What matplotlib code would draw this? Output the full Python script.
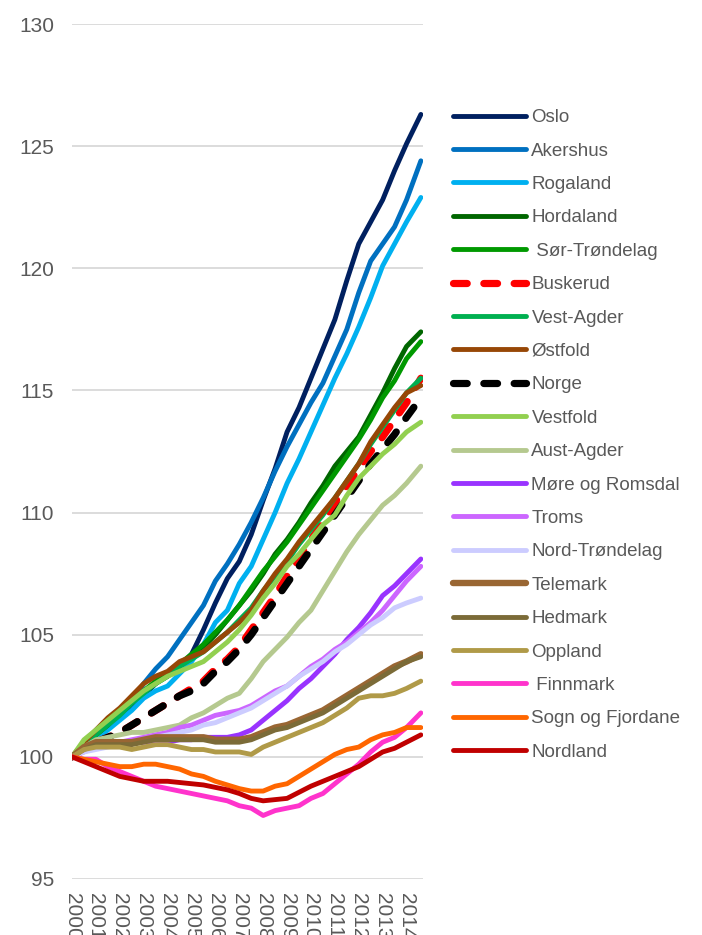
import numpy as np
import matplotlib.pyplot as plt

plt.rcParams['font.family'] = ['Liberation Sans', 'DejaVu Sans']

# half-yearly points, years since 2000 (last point mid-2014)
t = np.append(np.arange(0, 14.5, 0.5), 14.6)
year_labels = [str(y) for y in range(2000, 2015)]

names = ["Oslo", "Akershus", "Rogaland", "Hordaland", " Sør-Trøndelag", "Buskerud",
         "Vest-Agder", "Østfold", "Norge", "Vestfold", "Aust-Agder", "Møre og Romsdal",
         "Troms", "Nord-Trøndelag", "Telemark", "Hedmark", "Oppland", " Finnmark",
         "Sogn og Fjordane", "Nordland"]

oslo = [100, 100.5, 100.9, 101.3, 101.7, 102.1, 102.5, 103.0, 103.4, 103.7,
        104.2, 105.2, 106.3, 107.3, 108.0, 109.1, 110.5, 111.8, 113.3, 114.3,
        115.5, 116.7, 117.9, 119.5, 121.0, 121.9, 122.8, 124.0, 125.1, 126.3]
akershus = [100, 100.3, 100.8, 101.3, 101.7, 102.3, 103.0, 103.6, 104.1, 104.8,
            105.5, 106.2, 107.2, 107.9, 108.7, 109.6, 110.6, 111.7, 112.7, 113.6,
            114.5, 115.3, 116.4, 117.5, 119.0, 120.3, 121.0, 121.7, 122.8, 124.4]
rogaland = [100, 100.3, 100.7, 101.1, 101.5, 101.9, 102.4, 102.7, 102.9, 103.4,
            103.9, 104.6, 105.5, 106.0, 107.1, 107.8, 108.9, 110.0, 111.2, 112.2,
            113.3, 114.4, 115.5, 116.5, 117.6, 118.8, 120.1, 121.0, 121.9, 122.9]
hordaland = [100, 100.5, 100.9, 101.3, 101.8, 102.2, 102.7, 103.0, 103.3, 103.7,
             104.1, 104.5, 105.0, 105.6, 106.2, 106.8, 107.5, 108.3, 108.9, 109.6,
             110.4, 111.1, 111.9, 112.5, 113.1, 114.0, 114.9, 115.9, 116.8, 117.4]
sor_trondelag = [100, 100.6, 101.0, 101.4, 101.8, 102.3, 102.7, 103.1, 103.4, 103.8,
                 104.2, 104.6, 105.1, 105.6, 106.2, 106.9, 107.6, 108.2, 108.8, 109.5,
                 110.2, 110.9, 111.6, 112.3, 113.0, 113.8, 114.7, 115.4, 116.3, 117.0]
buskerud = [100, 100.3, 100.6, 100.8, 101.0, 101.3, 101.6, 101.9, 102.2, 102.5,
            102.8, 103.1, 103.6, 104.0, 104.5, 105.2, 105.9, 106.6, 107.4, 108.1,
            108.9, 109.6, 110.4, 111.1, 111.8, 112.5, 113.1, 113.8, 114.5, 115.5]
vest_agder = [100, 100.5, 100.9, 101.3, 101.7, 102.2, 102.6, 103.0, 103.3, 103.7,
              104.0, 104.3, 104.7, 105.1, 105.6, 106.1, 106.8, 107.4, 108.0, 108.7,
              109.3, 109.9, 110.6, 111.3, 112.0, 112.8, 113.5, 114.2, 114.9, 115.5]
ostfold = [100, 100.6, 101.1, 101.6, 102.0, 102.5, 103.0, 103.3, 103.5, 103.9,
           104.1, 104.3, 104.7, 105.1, 105.5, 106.0, 106.8, 107.5, 108.1, 108.8,
           109.4, 110.0, 110.6, 111.3, 112.0, 112.9, 113.6, 114.3, 114.9, 115.2]
norge = [100, 100.3, 100.6, 100.8, 101.0, 101.3, 101.6, 101.9, 102.2, 102.5,
         102.7, 103.0, 103.5, 103.9, 104.4, 105.0, 105.7, 106.4, 107.1, 107.8,
         108.5, 109.2, 109.9, 110.6, 111.3, 112.0, 112.6, 113.2, 113.9, 114.7]
vestfold = [100, 100.7, 101.1, 101.5, 101.9, 102.3, 102.7, 103.0, 103.3, 103.5,
            103.7, 103.9, 104.3, 104.7, 105.2, 105.8, 106.5, 107.1, 107.8, 108.3,
            108.9, 109.5, 109.9, 110.7, 111.4, 111.9, 112.4, 112.8, 113.3, 113.7]
aust_agder = [100, 100.4, 100.7, 100.8, 100.9, 101.0, 101.0, 101.1, 101.2, 101.3,
              101.6, 101.8, 102.1, 102.4, 102.6, 103.2, 103.9, 104.4, 104.9, 105.5,
              106.0, 106.8, 107.6, 108.4, 109.1, 109.7, 110.3, 110.7, 111.2, 111.9]
more_romsdal = [100, 100.3, 100.4, 100.5, 100.5, 100.6, 100.6, 100.6, 100.6, 100.7,
                100.7, 100.8, 100.8, 100.8, 100.9, 101.1, 101.5, 101.9, 102.3, 102.8,
                103.2, 103.7, 104.2, 104.8, 105.3, 105.9, 106.6, 107.0, 107.5, 108.1]
troms = [100, 100.2, 100.4, 100.5, 100.6, 100.7, 100.8, 100.9, 101.0, 101.2,
         101.3, 101.5, 101.7, 101.8, 101.9, 102.1, 102.4, 102.7, 102.9, 103.3,
         103.7, 104.0, 104.4, 104.7, 105.1, 105.5, 106.0, 106.6, 107.2, 107.8]
nord_trondelag = [100, 100.2, 100.3, 100.4, 100.5, 100.6, 100.7, 100.8, 100.9, 101.0,
                  101.1, 101.3, 101.4, 101.6, 101.8, 102.0, 102.3, 102.6, 102.9, 103.3,
                  103.6, 103.9, 104.3, 104.6, 105.0, 105.4, 105.7, 106.1, 106.3, 106.5]
telemark = [100, 100.4, 100.6, 100.6, 100.6, 100.6, 100.7, 100.8, 100.8, 100.8,
            100.8, 100.8, 100.7, 100.7, 100.7, 100.8, 101.0, 101.2, 101.3, 101.5,
            101.7, 101.9, 102.2, 102.5, 102.8, 103.1, 103.4, 103.7, 103.9, 104.2]
hedmark = [100, 100.3, 100.5, 100.5, 100.5, 100.5, 100.6, 100.7, 100.7, 100.7,
           100.7, 100.7, 100.6, 100.6, 100.6, 100.7, 100.9, 101.1, 101.2, 101.4,
           101.6, 101.8, 102.1, 102.4, 102.7, 103.0, 103.3, 103.6, 103.9, 104.1]
oppland = [100, 100.3, 100.4, 100.4, 100.4, 100.3, 100.4, 100.5, 100.5, 100.4,
           100.3, 100.3, 100.2, 100.2, 100.2, 100.1, 100.4, 100.6, 100.8, 101.0,
           101.2, 101.4, 101.7, 102.0, 102.4, 102.5, 102.5, 102.6, 102.8, 103.1]
finnmark = [100, 99.9, 99.9, 99.6, 99.4, 99.2, 99.0, 98.8, 98.7, 98.6,
            98.5, 98.4, 98.3, 98.2, 98.0, 97.9, 97.6, 97.8, 97.9, 98.0,
            98.3, 98.5, 98.9, 99.3, 99.7, 100.2, 100.6, 100.8, 101.2, 101.8]
sogn_fjordane = [100, 99.9, 99.8, 99.7, 99.6, 99.6, 99.7, 99.7, 99.6, 99.5,
                 99.3, 99.2, 99.0, 98.85, 98.7, 98.6, 98.6, 98.8, 98.9, 99.2,
                 99.5, 99.8, 100.1, 100.3, 100.4, 100.7, 100.9, 101.0, 101.2, 101.2]
nordland = [100, 99.8, 99.6, 99.4, 99.2, 99.1, 99.0, 99.0, 99.0, 98.95,
            98.9, 98.85, 98.75, 98.65, 98.5, 98.3, 98.2, 98.25, 98.3, 98.55,
            98.8, 99.0, 99.2, 99.4, 99.6, 99.9, 100.2, 100.35, 100.6, 100.9]

series = [oslo, akershus, rogaland, hordaland, sor_trondelag, buskerud, vest_agder,
          ostfold, norge, vestfold, aust_agder, more_romsdal, troms, nord_trondelag,
          telemark, hedmark, oppland, finnmark, sogn_fjordane, nordland]

colors = ["#002060", "#0070C0", "#00B0F0", "#006600", "#009900", "#FF0000",
          "#00B050", "#974706", "#000000", "#92D050", "#B5C98F", "#9933FF",
          "#CC66FF", "#CCCCFF", "#996633", "#7B6B38", "#B09A48", "#FF33CC",
          "#FF6600", "#C00000"]

fig = plt.figure(figsize=(7.02, 9.35), dpi=100)
ax = fig.add_axes([0.1026, 0.0599, 0.5, 0.9144])

for i, (name, vals, c) in enumerate(zip(names, series, colors)):
    if name in ("Buskerud", "Norge"):
        ax.plot(t, vals, color=c, lw=5.2, label=name, dashes=(1.9, 2.3),
                dash_capstyle='round', solid_capstyle='round', zorder=2 + i)
    else:
        lw = 4.6 if name == "Telemark" else 3.5
        ax.plot(t, vals, color=c, lw=lw, label=name, solid_capstyle='round',
                solid_joinstyle='round', zorder=2 + i)

ax.set_ylim(95, 130)
ax.set_yticks(range(95, 131, 5))
ax.set_xlim(0, 14.69)
ax.set_xticks(range(0, 15))
ax.set_xticklabels(year_labels, rotation=-90, va='top', ha='center')
ax.grid(axis='y', color='#D9D9D9', lw=1.3)
ax.set_axisbelow(True)
for s in ax.spines.values():
    s.set_visible(False)
ax.tick_params(length=0, labelsize=15, colors='#595959')
ax.tick_params(axis='y', pad=13)
ax.tick_params(axis='x', pad=10)

ax.legend(loc='upper left', bbox_to_anchor=(0.635, 0.8914), bbox_transform=fig.transFigure,
          frameon=False, fontsize=13.5, labelcolor='#595959', handlelength=3.9,
          handletextpad=0.27, labelspacing=0.868, borderaxespad=0)

fig.savefig("out.png", dpi=100)
